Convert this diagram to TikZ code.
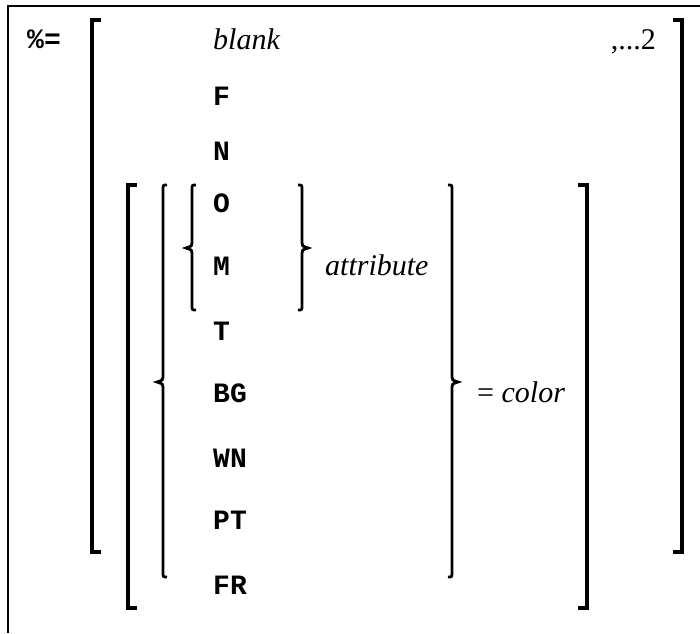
\documentclass[tikz,border=0pt]{standalone}
\usepackage{fontspec}
\setmainfont{Liberation Serif}
\newfontfamily\monob{Liberation Mono}[BoldFont={Liberation Mono Bold}]
\newcommand\mybrace[5]{% x, top, mid, bottom, dir (+1 left brace, -1 right brace)
  \draw[brc] ({#1+4*#5},#2) .. controls (#1,#2) .. (#1,{#2+5})
    -- (#1,{#3-5}) .. controls (#1,{#3-2}) .. ({#1-6*#5},#3)
    .. controls (#1,{#3+2}) .. (#1,{#3+5})
    -- (#1,{#4-5}) .. controls (#1,#4) .. ({#1+4*#5},#4);}
\newcommand\mybracket[4]{% x, top, bottom, dir
  \draw[brk] ({#1+9*#4},#2) -- (#1,#2) -- (#1,#3) -- ({#1+9*#4},#3);}
\begin{document}
\begin{tikzpicture}[x=1pt,y=-1pt,
  brc/.style={line width=2.8pt, line cap=butt},
  brk/.style={line width=3.3pt, line join=miter},
  kw/.style={anchor=base west, inner sep=0pt, font=\monob\bfseries\fontsize{28}{30}\selectfont},
  it/.style={anchor=base west, inner sep=0pt, font=\itshape\fontsize{30}{32}\selectfont},
  rm/.style={anchor=base west, inner sep=0pt, font=\fontsize{30}{32}\selectfont},
  frame/.style={line width=2pt}]
\useasboundingbox (0,0) rectangle (700,633);
\draw[frame] (8,633) -- (8,6) -- (700,6);
% brackets
\mybracket{92}{20}{552}{1}
\mybracket{682}{20}{552}{-1}
\mybracket{128}{185}{608}{1}
\mybracket{587}{185}{608}{-1}
% braces
\mybrace{163}{185}{382}{577}{1}
\mybrace{452}{185}{382}{577}{-1}
\mybrace{192}{185}{248}{310}{1}
\mybrace{302}{185}{248}{310}{-1}
% texts
\node[kw] (pct) at (27,48) {\%=};
\node[it] (blank) at (213,49) {blank};
\node[rm, anchor=base east] (rep) at (656,49) {,...2};
\node[kw] (F) at (213,105) {F};
\node[kw] (N) at (213,160) {N};
\node[kw] (O) at (213,212) {O};
\node[kw] (M) at (213,275) {M};
\node[it] (attr) at (325,275) {attribute};
\node[kw] (T) at (213,340) {T};
\node[kw] (BG) at (213,402) {BG};
\node[rm] (col) at (477,402) {= \textit{color}};
\node[kw] (WN) at (213,467) {WN};
\node[kw] (PT) at (213,529) {PT};
\node[kw] (FR) at (213,594) {FR};
\end{tikzpicture}
\end{document}
